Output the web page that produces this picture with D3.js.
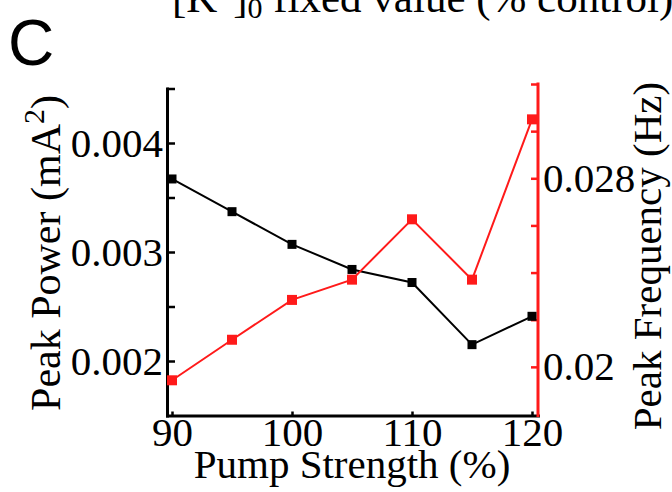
<!DOCTYPE html>
<html>
<head>
<meta charset="utf-8">
<script src="https://cdn.jsdelivr.net/npm/d3@7"></script>
<style>
  html, body { margin: 0; padding: 0; background: #fff; }
  svg { display: block; }
  .serif { font-family: "Liberation Serif", "Times New Roman", serif; }
</style>
</head>
<body>
<svg id="chart" width="672" height="492"></svg>
<script>
// Pump strength sweep: peak power (left axis) and peak frequency (right axis)
const pumpStrength = [90, 95, 100, 105, 110, 115, 120];
const peakPower = [0.00367, 0.00337, 0.00307, 0.00284, 0.00272, 0.00215, 0.00241];
const peakFrequency = [0.01943, 0.02115, 0.02284, 0.0237, 0.02626, 0.0237, 0.0305];

const xTicks = [90, 100, 110, 120];
const powerTicks = [0.002, 0.0025, 0.003, 0.0035, 0.004, 0.0045];
const powerLabels = { 0.002: "0.002", 0.003: "0.003", 0.004: "0.004" };
const freqTicks = [0.020, 0.022, 0.024, 0.026, 0.028, 0.030, 0.032];
const freqLabels = { 0.02: "0.02", 0.028: "0.028" };

const RED = "#ff1a1a";
const svg = d3.select("#chart");
svg.append("rect").attr("width", 672).attr("height", 492).attr("fill", "#fff");

const plotLeft = 167, plotRight = 538, plotTop = 88.5, plotBottom = 415.5;

const x = d3.scaleLinear().domain([89.583, 120.5]).range([plotLeft, plotRight]);
const yPow = d3.scaleLinear().domain([0.0015, 0.0045]).range([plotBottom, plotTop]);
const yFreq = d3.scaleLinear().domain([0.018, 0.032]).range([414, 84]);

// Panel letter and heading carried over from the figure above
svg.append("text").attr("x", 8).attr("y", 65)
  .attr("font-family", "'Liberation Sans', Arial, sans-serif")
  .attr("font-size", 64).text("C");

const head = svg.append("text").attr("class", "serif")
  .attr("x", 172).attr("y", 12).attr("font-size", 43);
head.append("tspan").text("[K");
head.append("tspan").attr("font-size", 28).attr("dy", -17).text("+");
head.append("tspan").attr("dy", 17).text("]");
head.append("tspan").attr("font-size", 30).attr("dy", 6).text("0");
head.append("tspan").attr("dy", -6).text(" fixed value (% control)");

function styleAxis(g, color, width, fontSize) {
  g.attr("font-family", null).attr("font-size", null);
  g.select(".domain").attr("stroke", color).attr("stroke-width", width)
    .attr("stroke-linecap", "square");
  g.selectAll(".tick line").attr("stroke", color).attr("stroke-width", 2.5);
  g.selectAll(".tick text").attr("class", "serif").attr("fill", "#000")
    .attr("font-size", fontSize);
}

// Left axis: peak power
const gL = svg.append("g").attr("transform", `translate(${plotLeft},0)`)
  .call(d3.axisLeft(yPow).tickValues(powerTicks).tickSizeInner(-8).tickSizeOuter(0)
    .tickPadding(4).tickFormat(d => powerLabels[+d.toFixed(4)] || ""));
styleAxis(gL, "#000", 3, 41);

// Bottom axis: pump strength
const gB = svg.append("g").attr("transform", `translate(0,${plotBottom})`)
  .call(d3.axisBottom(x).tickValues(xTicks).tickSizeInner(-4).tickSizeOuter(0)
    .tickPadding(1).tickFormat(d3.format("d")));
styleAxis(gB, "#000", 3, 41);

// Right axis: peak frequency
const gR = svg.append("g").attr("transform", `translate(${plotRight},0)`)
  .call(d3.axisRight(yFreq).tickValues(freqTicks).tickSizeInner(-7).tickSizeOuter(0)
    .tickPadding(5).tickFormat(d => freqLabels[+d.toFixed(3)] || ""));
styleAxis(gR, RED, 3, 41);
gR.select(".domain").attr("d", `M0,${plotBottom}V84`);

// Axis titles
const yTitle = svg.append("text").attr("class", "serif").attr("font-size", 42)
  .attr("text-anchor", "middle")
  .attr("transform", "translate(60,253) rotate(-90)");
yTitle.append("tspan").text("Peak Power (mA");
yTitle.append("tspan").attr("font-size", 30).attr("dy", -16).text("2");
yTitle.append("tspan").attr("dy", 16).text(")");

svg.append("text").attr("class", "serif").attr("font-size", 41)
  .attr("text-anchor", "middle")
  .attr("transform", "translate(661,256) rotate(-90)")
  .text("Peak Frequency (Hz)");

svg.append("text").attr("class", "serif").attr("font-size", 41)
  .attr("text-anchor", "middle").attr("x", 352).attr("y", 478)
  .text("Pump Strength (%)");

// Series: peak power (black), then peak frequency (red) on top
const powerPts = pumpStrength.map((p, i) => [x(p), yPow(peakPower[i])]);
const freqPts = pumpStrength.map((p, i) => [x(p), yFreq(peakFrequency[i])]);
const line = d3.line();

svg.append("path").attr("d", line(powerPts)).attr("fill", "none")
  .attr("stroke", "#000").attr("stroke-width", 2);
svg.append("g").selectAll("rect").data(powerPts).join("rect")
  .attr("x", d => d[0] - 4.5).attr("y", d => d[1] - 4.5)
  .attr("width", 9).attr("height", 9).attr("fill", "#000");

svg.append("path").attr("d", line(freqPts)).attr("fill", "none")
  .attr("stroke", RED).attr("stroke-width", 2);
svg.append("g").selectAll("rect").data(freqPts).join("rect")
  .attr("x", d => d[0] - 5).attr("y", d => d[1] - 5)
  .attr("width", 10).attr("height", 10).attr("fill", RED);
</script>
</body>
</html>
